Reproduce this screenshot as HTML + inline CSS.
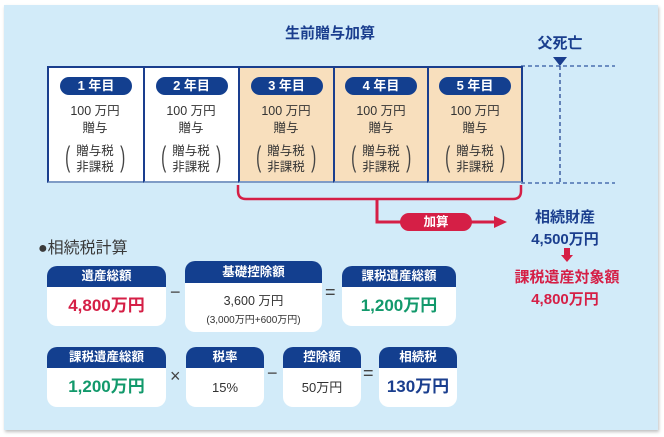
<!DOCTYPE html>
<html><head><meta charset="utf-8"><style>
*{margin:0;padding:0;box-sizing:border-box}
body{width:664px;height:437px;background:#fff;position:relative;font-family:"Liberation Sans","Noto Sans CJK JP",sans-serif;overflow:hidden}
.panel{position:absolute;left:4px;top:5px;width:654px;height:425px;background:#d2ebf9;box-shadow:1px 2px 3px rgba(0,0,0,.25)}
.a{position:absolute}
.t{position:absolute;white-space:nowrap;text-align:center}
.yb{position:absolute;top:66px;height:117px;border:2px solid #1a3e8e;border-bottom-color:#7f9cc6}
.pill{position:absolute;left:50%;transform:translateX(-50%);top:9px;width:72px;height:18px;border-radius:9px;background:#133f8f;color:#fff;font-size:13px;line-height:18px;text-align:center;font-weight:bold}
.yt{position:absolute;left:0;right:0;text-align:center;color:#333;font-size:12.5px;line-height:16px}
.par{position:absolute;top:74px;font-size:22px;color:#444;line-height:30px;transform:scale(0.7,1.3);transform-origin:center top}
.bx{position:absolute;background:#fff;border-radius:10px;overflow:hidden;text-align:center}
.bx .h{background:#133f8f;color:#fff;font-size:12.5px;font-weight:bold}
.op{position:absolute;font-size:18px;color:#444}
</style></head><body>
<div class="panel"></div>
<div class="t" style="left:270px;top:22px;width:120px;font-size:15px;color:#1a3e8e;font-weight:bold">生前贈与加算</div>
<div class="t" style="left:530px;top:32px;width:60px;font-size:15px;color:#1a3e8e;font-weight:bold">父死亡</div>
<svg class="a" style="left:0;top:0" width="664" height="437">
<polygon points="553,57 567,57 560,66" fill="#1a3e8e"/>
<line x1="521" y1="66" x2="615" y2="66" stroke="#4a6fb0" stroke-width="1.5" stroke-dasharray="4,3"/>
<line x1="521" y1="183" x2="615" y2="183" stroke="#4a6fb0" stroke-width="1.5" stroke-dasharray="4,3"/>
<line x1="560" y1="66" x2="560" y2="183" stroke="#1a3e8e" stroke-width="1.2" stroke-dasharray="4,3"/>
<path d="M238,185 V191 Q238,199 246,199 H513 Q521,199 521,191 V185" fill="none" stroke="#d51f46" stroke-width="2.5"/>
<path d="M377,199 V222 H496" fill="none" stroke="#d51f46" stroke-width="3"/>
<polygon points="494,216 507,222 494,228" fill="#d51f46"/>
<rect x="400" y="213" width="72" height="18" rx="9" fill="#d51f46"/>
<rect x="564" y="248" width="6" height="8" fill="#d51f46"/>
<polygon points="561,255 573,255 567,262" fill="#d51f46"/>
</svg>
<div class="t" style="left:400px;top:213px;width:72px;font-size:12.5px;line-height:18px;color:#fff;font-weight:bold">加算</div>
<div class="yb" style="left:47px;width:98px;background:#fff"><div class="pill">1 年目</div></div>
<div class="yb" style="left:143px;width:97px;background:#fff"><div class="pill">2 年目</div></div>
<div class="yb" style="left:238px;width:97px;background:#f8dfbd"><div class="pill">3 年目</div></div>
<div class="yb" style="left:333px;width:96px;background:#f8dfbd"><div class="pill">4 年目</div></div>
<div class="yb" style="left:427px;width:96px;background:#f8dfbd"><div class="pill">5 年目</div></div>
<script>
[47,143,238,333,427].forEach(function(x){
 var w=document.createElement('div');w.className='a';w.style.cssText='left:'+(x+2)+'px;top:68px;width:92px;height:113px';
 w.innerHTML='<div class="yt" style="top:35px">100 万円</div><div class="yt" style="top:52px">贈与</div><div class="yt" style="top:75px">贈与税</div><div class="yt" style="top:91px">非課税</div><div class="par" style="left:15px;top:70px">(</div><div class="par" style="right:15px;top:70px">)</div>';
 document.body.appendChild(w);});
</script>
<div class="t" style="left:515px;top:206px;width:100px;font-size:15px;color:#1a3e8e;font-weight:bold">相続財産</div>
<div class="t" style="left:515px;top:228px;width:100px;font-size:15px;color:#1a3e8e;font-weight:bold">4,500万円</div>
<div class="t" style="left:500px;top:266px;width:134px;font-size:15px;color:#d51f46;font-weight:bold">課税遺産対象額</div>
<div class="t" style="left:515px;top:288px;width:100px;font-size:15px;color:#d51f46;font-weight:bold">4,800万円</div>
<div class="t" style="left:38px;top:234px;font-size:16px;color:#3a3a3a">●相続税計算</div>

<div class="bx" style="left:47px;top:266px;width:119px;height:60px"><div class="h" style="height:21px;line-height:21px">遺産総額</div><div style="font-size:17px;color:#d51f46;font-weight:bold;line-height:38px">4,800万円</div></div>
<div class="op" style="left:170px;top:282px">−</div>
<div class="bx" style="left:185px;top:261px;width:137px;height:71px"><div class="h" style="height:22px;line-height:22px">基礎控除額</div><div style="font-size:12.5px;color:#333;margin-top:7px">3,600 万円</div><div style="font-size:10px;color:#333;margin-top:2px">(3,000万円+600万円)</div></div>
<div class="op" style="left:325px;top:282px">=</div>
<div class="bx" style="left:342px;top:266px;width:114px;height:60px"><div class="h" style="height:21px;line-height:21px">課税遺産総額</div><div style="font-size:17px;color:#12996b;font-weight:bold;line-height:38px">1,200万円</div></div>

<div class="bx" style="left:47px;top:347px;width:119px;height:60px"><div class="h" style="height:21px;line-height:21px">課税遺産総額</div><div style="font-size:17px;color:#12996b;font-weight:bold;line-height:38px">1,200万円</div></div>
<div class="op" style="left:170px;top:366px">×</div>
<div class="bx" style="left:186px;top:347px;width:78px;height:60px"><div class="h" style="height:21px;line-height:21px">税率</div><div style="font-size:13px;color:#333;line-height:40px">15%</div></div>
<div class="op" style="left:267px;top:363px">−</div>
<div class="bx" style="left:283px;top:347px;width:78px;height:60px"><div class="h" style="height:21px;line-height:21px">控除額</div><div style="font-size:13px;color:#333;line-height:40px">50万円</div></div>
<div class="op" style="left:363px;top:363px">=</div>
<div class="bx" style="left:379px;top:347px;width:78px;height:60px"><div class="h" style="height:21px;line-height:21px">相続税</div><div style="font-size:17px;color:#1a3e8e;font-weight:bold;line-height:38px">130万円</div></div>
</body></html>
